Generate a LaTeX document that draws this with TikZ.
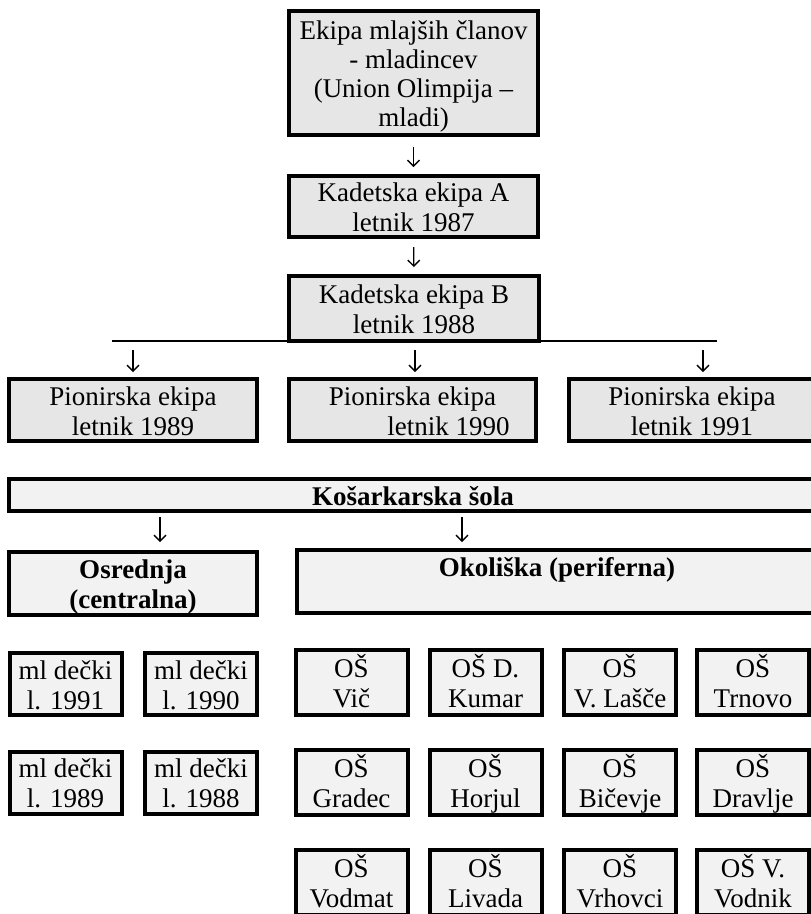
\documentclass[tikz,border=0pt]{standalone}
\usepackage{fontspec}
\setmainfont{Liberation Serif}
\usetikzlibrary{arrows.meta}

\definecolor{boxgray}{RGB}{230,230,230}
\definecolor{boxlight}{RGB}{242,242,242}

\tikzset{
  box/.style={draw=black, line width=4pt, fill=boxgray, align=center, inner sep=0pt,
    text height=50pt, text depth=0pt, font=\fontsize{27}{30}\selectfont},
  sbox/.style={box, fill=boxlight},
  down/.style={-{Straight Barb[length=6pt,width=12pt]}, line width=1.3pt}
}

\begin{document}
\begin{tikzpicture}[x=1pt,y=-1pt]
\useasboundingbox (0,0) rectangle (811,914);
\clip (0,0) rectangle (811,914);

%draw split line under the cadets
\coordinate (lineL) at (112,341);
\coordinate (lineR) at (717,341);
\draw[line width=2.5pt] (lineL) -- (lineR);

%draw club teams
\node[box, minimum width=249pt, minimum height=124pt, text height=107pt, font=\fontsize{27}{29}\selectfont] (ekipa) at (413.5,73)
  {Ekipa mlajših članov\\- mladincev\\(Union Olimpija –\\mladi)};
\node[box, minimum width=249pt, minimum height=61pt] (kadetA) at (413.5,206.5) {Kadetska ekipa A\\letnik 1987};
\node[box, minimum width=250pt, minimum height=65pt] (kadetB) at (414,308.5) {Kadetska ekipa B\\letnik 1988};

\node[box, minimum width=248pt, minimum height=62pt] (pionir89) at (133,410) {Pionirska ekipa\\letnik 1989};
\node[box, minimum width=247pt, minimum height=62pt] (pionir90) at (412.5,410) {Pionirska ekipa\\\hspace*{72pt}letnik 1990};
\node[box, minimum width=246pt, minimum height=62pt] (pionir91) at (692,410) {Pionirska ekipa\\letnik 1991};

%draw arrows between teams
\draw[down, shorten <=10pt, shorten >=7pt] (ekipa) -- (kadetA);
\draw[down, shorten <=8pt, shorten >=7pt] (kadetA) -- (kadetB);

\coordinate (split89) at (133,341);
\coordinate (split90) at (415,341);
\coordinate (split91) at (703,341);
\foreach \s/\t in {split89/pionir89, split90/pionir90, split91/pionir91}
	{
	\draw[down, shorten <=9pt, shorten >=5pt] (\s) -- (\s |- \t.north);
	}

%draw basketball school
\node[sbox, minimum width=808pt, minimum height=32pt, text height=20pt, font=\fontsize{27}{30}\selectfont\bfseries] (sola) at (413,495)
  {Košarkarska šola};
\node[sbox, minimum width=248pt, minimum height=63pt, font=\fontsize{27}{30}\selectfont\bfseries] (osrednja) at (133,583.5)
  {Osrednja\\(centralna)};
\node[sbox, minimum width=520pt, minimum height=63pt, font=\fontsize{27}{30}\selectfont\bfseries] (okoliska) at (557,581.5)
  {Okoliška (periferna)\\~};

\coordinate (toOsr) at (160,513);
\coordinate (toOkol) at (462,513);
\draw[down, shorten <=4pt, shorten >=8pt] (toOsr) -- (toOsr |- osrednja.north);
\draw[down, shorten <=4pt, shorten >=6pt] (toOkol) -- (toOkol |- okoliska.north);

%draw central groups
\foreach \nm/\txt/\x/\y in {ml91/{ml dečki\\l. 1991}/65.5/684, ml90/{ml dečki\\l. 1990}/201/684,
                           ml89/{ml dečki\\l. 1989}/65.5/782.5, ml88/{ml dečki\\l. 1988}/201/782.5}
	{
	\node[sbox, minimum width=112pt, minimum height=62pt] (\nm) at (\x,\y) {\txt};
	}

%draw grid of schools
\foreach \nm/\txt/\x/\y in {vic/{OŠ\\Vič}/351.5/682.5, kumar/{OŠ D.\\Kumar}/485.5/682.5,
                           lasce/{OŠ\\V. Lašče}/620/682.5, trnovo/{OŠ\\Trnovo}/753/682.5,
                           gradec/{OŠ\\Gradec}/351.5/782.5, horjul/{OŠ\\Horjul}/485.5/782.5,
                           bicevje/{OŠ\\Bičevje}/620/782.5, dravlje/{OŠ\\Dravlje}/753/782.5,
                           vodmat/{OŠ\\Vodmat}/351.5/882.5, livada/{OŠ\\Livada}/485.5/882.5,
                           vrhovci/{OŠ\\Vrhovci}/620/882.5, vodnik/{OŠ V.\\Vodnik}/753/882.5}
	{
	\node[sbox, minimum width=112pt, minimum height=65pt] (\nm) at (\x,\y) {\txt};
	}

\end{tikzpicture}
\end{document}
